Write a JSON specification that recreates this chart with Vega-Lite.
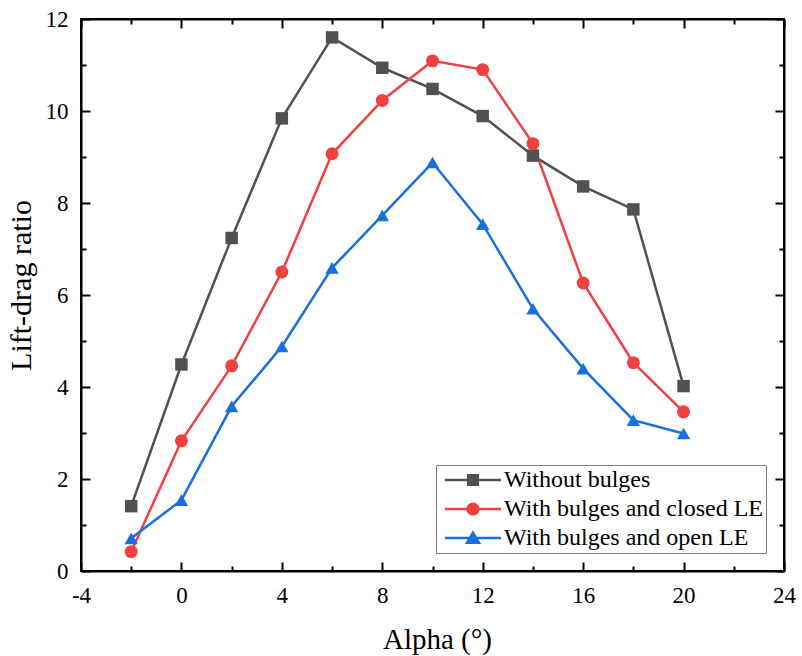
{
  "$schema": "https://vega.github.io/schema/vega-lite/v6.json",
  "width": 703,
  "height": 552,
  "autosize": {"type": "none"},
  "padding": {"left": 81, "top": 19, "right": 18, "bottom": 85},
  "background": "white",
  "config": {
    "font": "Liberation Serif",
    "view": {"stroke": "black", "strokeWidth": 2}
  },
  "data": {
    "values": [
      {"alpha": -2, "series": "Without bulges", "ratio": 1.41},
      {"alpha": 0, "series": "Without bulges", "ratio": 4.49},
      {"alpha": 2, "series": "Without bulges", "ratio": 7.24},
      {"alpha": 4, "series": "Without bulges", "ratio": 9.84},
      {"alpha": 6, "series": "Without bulges", "ratio": 11.6},
      {"alpha": 8, "series": "Without bulges", "ratio": 10.94},
      {"alpha": 10, "series": "Without bulges", "ratio": 10.48},
      {"alpha": 12, "series": "Without bulges", "ratio": 9.89},
      {"alpha": 14, "series": "Without bulges", "ratio": 9.03},
      {"alpha": 16, "series": "Without bulges", "ratio": 8.36},
      {"alpha": 18, "series": "Without bulges", "ratio": 7.86},
      {"alpha": 20, "series": "Without bulges", "ratio": 4.02},
      {"alpha": -2, "series": "With bulges and closed LE", "ratio": 0.42},
      {"alpha": 0, "series": "With bulges and closed LE", "ratio": 2.83},
      {"alpha": 2, "series": "With bulges and closed LE", "ratio": 4.46},
      {"alpha": 4, "series": "With bulges and closed LE", "ratio": 6.5},
      {"alpha": 6, "series": "With bulges and closed LE", "ratio": 9.07},
      {"alpha": 8, "series": "With bulges and closed LE", "ratio": 10.23},
      {"alpha": 10, "series": "With bulges and closed LE", "ratio": 11.09},
      {"alpha": 12, "series": "With bulges and closed LE", "ratio": 10.9},
      {"alpha": 14, "series": "With bulges and closed LE", "ratio": 9.29},
      {"alpha": 16, "series": "With bulges and closed LE", "ratio": 6.26},
      {"alpha": 18, "series": "With bulges and closed LE", "ratio": 4.53},
      {"alpha": 20, "series": "With bulges and closed LE", "ratio": 3.46},
      {"alpha": -2, "series": "With bulges and open LE", "ratio": 0.71},
      {"alpha": 0, "series": "With bulges and open LE", "ratio": 1.54},
      {"alpha": 2, "series": "With bulges and open LE", "ratio": 3.58},
      {"alpha": 4, "series": "With bulges and open LE", "ratio": 4.88},
      {"alpha": 6, "series": "With bulges and open LE", "ratio": 6.59},
      {"alpha": 8, "series": "With bulges and open LE", "ratio": 7.73},
      {"alpha": 10, "series": "With bulges and open LE", "ratio": 8.88},
      {"alpha": 12, "series": "With bulges and open LE", "ratio": 7.54},
      {"alpha": 14, "series": "With bulges and open LE", "ratio": 5.7},
      {"alpha": 16, "series": "With bulges and open LE", "ratio": 4.4},
      {"alpha": 18, "series": "With bulges and open LE", "ratio": 3.28},
      {"alpha": 20, "series": "With bulges and open LE", "ratio": 2.99}
    ]
  },
  "layer": [
    {
      "mark": {"type": "line", "strokeWidth": 2.5},
      "encoding": {
        "x": {
          "field": "alpha", "type": "quantitative",
          "scale": {"domain": [-4, 24], "nice": false, "zero": false},
          "axis": {
            "orient": "bottom",
            "values": [-4, -2, 0, 2, 4, 6, 8, 10, 12, 14, 16, 18, 20, 22, 24],
            "labelExpr": "datum.value % 4 === 0 ? toString(datum.value) : ''",
            "tickSize": {"condition": {"test": "datum.value % 4 === 0", "value": -9}, "value": -5},
            "tickColor": "black", "tickWidth": 2,
            "domainColor": "black", "domainWidth": 2,
            "labelFont": "Liberation Serif",
            "labelFontSize": 23, "labelColor": "black", "labelPadding": 22,
            "labelFlush": false, "labelOverlap": false,
            "grid": false,
            "title": "Alpha (°)", "titleFont": "Liberation Serif", "titleFontSize": 29, "titleFontWeight": "normal",
            "titleColor": "black", "titlePadding": 14, "titleX": 356
          }
        },
        "y": {
          "field": "ratio", "type": "quantitative",
          "scale": {"domain": [0, 12], "nice": false},
          "axis": {
            "orient": "left",
            "values": [0, 1, 2, 3, 4, 5, 6, 7, 8, 9, 10, 11, 12],
            "labelExpr": "datum.value % 2 === 0 ? datum.label : ''",
            "tickSize": {"condition": {"test": "datum.value % 2 === 0", "value": -9}, "value": -5},
            "tickColor": "black", "tickWidth": 2,
            "domainColor": "black", "domainWidth": 2,
            "labelFont": "Liberation Serif",
            "labelFontSize": 23, "labelColor": "black", "labelPadding": 22,
            "labelFlush": false, "labelOverlap": false,
            "grid": false,
            "title": "Lift-drag ratio", "titleFont": "Liberation Serif", "titleFontSize": 30, "titleFontWeight": "normal",
            "titleColor": "black", "titlePadding": 9, "titleY": 266
          }
        },
        "color": {
          "field": "series", "type": "nominal",
          "scale": {
            "domain": ["Without bulges", "With bulges and closed LE", "With bulges and open LE"],
            "range": ["#515151", "#F14040", "#1A6FDF"]
          },
          "legend": null
        }
      }
    },
    {
      "mark": {"type": "point", "filled": true, "opacity": 1, "strokeWidth": 0},
      "encoding": {
        "x": {"field": "alpha", "type": "quantitative", "axis": null},
        "y": {"field": "ratio", "type": "quantitative", "axis": null},
        "fill": {
          "field": "series", "type": "nominal",
          "scale": {
            "domain": ["Without bulges", "With bulges and closed LE", "With bulges and open LE"],
            "range": ["#515151", "#F14040", "#1A6FDF"]
          },
          "legend": null
        },
        "shape": {
          "field": "series", "type": "nominal",
          "scale": {
            "domain": ["Without bulges", "With bulges and closed LE", "With bulges and open LE"],
            "range": ["square", "circle", "triangle-up"]
          },
          "legend": null
        },
        "size": {
          "field": "series", "type": "nominal",
          "scale": {
            "domain": ["Without bulges", "With bulges and closed LE", "With bulges and open LE"],
            "range": [155, 180, 320]
          },
          "legend": null
        }
      }
    },
    {
      "mark": {"type": "point", "filled": true, "opacity": 0, "strokeWidth": 0},
      "encoding": {
        "x": {
          "field": "alpha", "type": "quantitative",
          "axis": {
            "orient": "top",
            "values": [-4, -2, 0, 2, 4, 6, 8, 10, 12, 14, 16, 18, 20, 22, 24],
            "labels": false, "title": null,
            "tickSize": {"condition": {"test": "datum.value % 4 === 0", "value": -9}, "value": -5},
            "tickColor": "black", "tickWidth": 2,
            "domainColor": "black", "domainWidth": 2, "grid": false
          }
        },
        "y": {
          "field": "ratio", "type": "quantitative",
          "axis": {
            "orient": "right",
            "values": [0, 1, 2, 3, 4, 5, 6, 7, 8, 9, 10, 11, 12],
            "labels": false, "title": null,
            "tickSize": {"condition": {"test": "datum.value % 2 === 0", "value": -9}, "value": -5},
            "tickColor": "black", "tickWidth": 2,
            "domainColor": "black", "domainWidth": 2, "grid": false
          }
        },
        "fill": {
          "field": "series", "type": "nominal",
          "scale": {
            "domain": ["Without bulges", "With bulges and closed LE", "With bulges and open LE"],
            "range": ["#515151", "#F14040", "#1A6FDF"]
          },
          "legend": {
            "orient": "bottom-right", "offset": 18,
            "title": null,
            "symbolOpacity": 1, "symbolSize": 144, "symbolStrokeWidth": 0, "symbolOffset": 22,
            "labelFont": "Liberation Serif",
            "labelFontSize": 24, "labelColor": "black", "labelOffset": 19, "labelLimit": 0,
            "strokeColor": "#7f7f7f", "padding": 3, "rowPadding": 5
          }
        },
        "shape": {
          "field": "series", "type": "nominal",
          "scale": {
            "domain": ["Without bulges", "With bulges and closed LE", "With bulges and open LE"],
            "range": [
              "M-4.667,-0.21H4.667V0.21H-4.667Z M-1,-1H1V1H-1Z",
              "M-4.667,-0.21H4.667V0.21H-4.667Z M-1.1,0A1.1,1.1,0,1,1,1.1,0A1.1,1.1,0,1,1,-1.1,0Z",
              "M-4.667,-0.21H4.667V0.21H-4.667Z M0,-1.3L1.35,1.0H-1.35Z"
            ]
          },
          "legend": {
            "orient": "bottom-right", "offset": 18,
            "title": null,
            "symbolOpacity": 1, "symbolSize": 144, "symbolStrokeWidth": 0, "symbolOffset": 22,
            "labelFont": "Liberation Serif",
            "labelFontSize": 24, "labelColor": "black", "labelOffset": 19, "labelLimit": 0,
            "strokeColor": "#7f7f7f", "padding": 3, "rowPadding": 5
          }
        }
      }
    }
  ],
  "resolve": {
    "axis": {"x": "independent", "y": "independent"},
    "scale": {"shape": "independent", "fill": "independent"}
  }
}
